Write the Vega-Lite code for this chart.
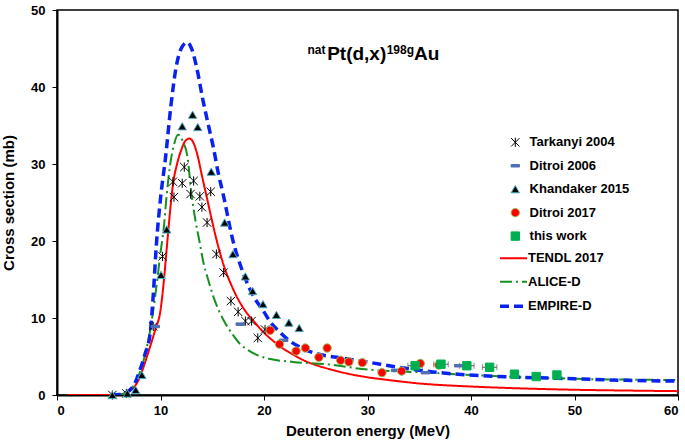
{
  "$schema": "https://vega.github.io/schema/vega-lite/v6.json",
  "width": 621,
  "height": 385,
  "autosize": {"type": "none"},
  "padding": {"left": 57, "top": 10, "right": 7, "bottom": 51},
  "background": "#ffffff",
  "datasets": {
    "curves": [
      {"model": "TENDL 2017", "E": 1, "s": 0}, {"model": "TENDL 2017", "E": 5.5, "s": 0}, {"model": "TENDL 2017", "E": 6, "s": 0.05}, {"model": "TENDL 2017", "E": 6.5, "s": 0.2}, {"model": "TENDL 2017", "E": 7, "s": 0.5}, {"model": "TENDL 2017", "E": 7.5, "s": 1.1}, {"model": "TENDL 2017", "E": 8, "s": 2.3}, {"model": "TENDL 2017", "E": 8.5, "s": 4.2}, {"model": "TENDL 2017", "E": 9, "s": 6.3}, {"model": "TENDL 2017", "E": 9.5, "s": 8.5}, {"model": "TENDL 2017", "E": 10, "s": 11}, {"model": "TENDL 2017", "E": 10.3, "s": 14.5}, {"model": "TENDL 2017", "E": 10.6, "s": 19}, {"model": "TENDL 2017", "E": 10.9, "s": 23.5}, {"model": "TENDL 2017", "E": 11.2, "s": 27.3}, {"model": "TENDL 2017", "E": 11.6, "s": 30}, {"model": "TENDL 2017", "E": 12, "s": 31.8}, {"model": "TENDL 2017", "E": 12.4, "s": 33}, {"model": "TENDL 2017", "E": 12.8, "s": 33.3}, {"model": "TENDL 2017", "E": 13.2, "s": 32.7}, {"model": "TENDL 2017", "E": 13.6, "s": 31}, {"model": "TENDL 2017", "E": 14, "s": 28.5}, {"model": "TENDL 2017", "E": 14.5, "s": 25.5}, {"model": "TENDL 2017", "E": 15, "s": 22.5}, {"model": "TENDL 2017", "E": 15.5, "s": 19.7}, {"model": "TENDL 2017", "E": 16, "s": 17.3}, {"model": "TENDL 2017", "E": 17, "s": 13.8}, {"model": "TENDL 2017", "E": 18, "s": 11.3}, {"model": "TENDL 2017", "E": 19, "s": 9.6}, {"model": "TENDL 2017", "E": 20, "s": 8.1}, {"model": "TENDL 2017", "E": 21, "s": 6.9}, {"model": "TENDL 2017", "E": 22, "s": 5.9}, {"model": "TENDL 2017", "E": 23, "s": 5.1}, {"model": "TENDL 2017", "E": 24, "s": 4.4}, {"model": "TENDL 2017", "E": 25, "s": 3.9}, {"model": "TENDL 2017", "E": 26.5, "s": 3.3}, {"model": "TENDL 2017", "E": 28, "s": 2.8}, {"model": "TENDL 2017", "E": 30, "s": 2.3}, {"model": "TENDL 2017", "E": 32, "s": 1.95}, {"model": "TENDL 2017", "E": 35, "s": 1.5}, {"model": "TENDL 2017", "E": 40, "s": 1.1}, {"model": "TENDL 2017", "E": 45, "s": 0.85}, {"model": "TENDL 2017", "E": 50, "s": 0.68}, {"model": "TENDL 2017", "E": 55, "s": 0.58}, {"model": "TENDL 2017", "E": 60, "s": 0.5},
      {"model": "ALICE-D", "E": 6, "s": 0}, {"model": "ALICE-D", "E": 6.5, "s": 0.2}, {"model": "ALICE-D", "E": 7.2, "s": 0.8}, {"model": "ALICE-D", "E": 8, "s": 2.9}, {"model": "ALICE-D", "E": 8.5, "s": 5.2}, {"model": "ALICE-D", "E": 9, "s": 8.4}, {"model": "ALICE-D", "E": 9.6, "s": 14}, {"model": "ALICE-D", "E": 10, "s": 18.5}, {"model": "ALICE-D", "E": 10.3, "s": 21.5}, {"model": "ALICE-D", "E": 10.6, "s": 26}, {"model": "ALICE-D", "E": 10.9, "s": 29.6}, {"model": "ALICE-D", "E": 11.3, "s": 32.5}, {"model": "ALICE-D", "E": 11.7, "s": 33.8}, {"model": "ALICE-D", "E": 12.2, "s": 32.8}, {"model": "ALICE-D", "E": 12.6, "s": 31}, {"model": "ALICE-D", "E": 13, "s": 26}, {"model": "ALICE-D", "E": 13.4, "s": 22.5}, {"model": "ALICE-D", "E": 13.8, "s": 19.7}, {"model": "ALICE-D", "E": 14.1, "s": 17.5}, {"model": "ALICE-D", "E": 14.6, "s": 15}, {"model": "ALICE-D", "E": 15.1, "s": 12.8}, {"model": "ALICE-D", "E": 16.1, "s": 9.7}, {"model": "ALICE-D", "E": 17, "s": 7.8}, {"model": "ALICE-D", "E": 17.7, "s": 6.6}, {"model": "ALICE-D", "E": 18.5, "s": 5.8}, {"model": "ALICE-D", "E": 19.5, "s": 5.1}, {"model": "ALICE-D", "E": 20.5, "s": 4.7}, {"model": "ALICE-D", "E": 22.8, "s": 4.3}, {"model": "ALICE-D", "E": 26, "s": 4}, {"model": "ALICE-D", "E": 30, "s": 3.3}, {"model": "ALICE-D", "E": 36, "s": 2.9}, {"model": "ALICE-D", "E": 40, "s": 2.6}, {"model": "ALICE-D", "E": 45, "s": 2.3}, {"model": "ALICE-D", "E": 50, "s": 2.1}, {"model": "ALICE-D", "E": 55, "s": 2}, {"model": "ALICE-D", "E": 60, "s": 1.95},
      {"model": "EMPIRE-D", "E": 5.3, "s": 0}, {"model": "EMPIRE-D", "E": 6, "s": 0.05}, {"model": "EMPIRE-D", "E": 6.6, "s": 0.25}, {"model": "EMPIRE-D", "E": 7, "s": 0.6}, {"model": "EMPIRE-D", "E": 7.4, "s": 1.2}, {"model": "EMPIRE-D", "E": 8, "s": 3.2}, {"model": "EMPIRE-D", "E": 8.5, "s": 5.3}, {"model": "EMPIRE-D", "E": 9, "s": 8}, {"model": "EMPIRE-D", "E": 9.3, "s": 13}, {"model": "EMPIRE-D", "E": 9.6, "s": 19.5}, {"model": "EMPIRE-D", "E": 10, "s": 25.5}, {"model": "EMPIRE-D", "E": 10.5, "s": 31}, {"model": "EMPIRE-D", "E": 11, "s": 37.5}, {"model": "EMPIRE-D", "E": 11.5, "s": 42.5}, {"model": "EMPIRE-D", "E": 12, "s": 45}, {"model": "EMPIRE-D", "E": 12.6, "s": 45.8}, {"model": "EMPIRE-D", "E": 13, "s": 45}, {"model": "EMPIRE-D", "E": 13.5, "s": 42.5}, {"model": "EMPIRE-D", "E": 14.1, "s": 38.3}, {"model": "EMPIRE-D", "E": 14.6, "s": 35.2}, {"model": "EMPIRE-D", "E": 15.1, "s": 32.2}, {"model": "EMPIRE-D", "E": 15.6, "s": 28.7}, {"model": "EMPIRE-D", "E": 16.1, "s": 25.8}, {"model": "EMPIRE-D", "E": 16.9, "s": 20.6}, {"model": "EMPIRE-D", "E": 18, "s": 15.8}, {"model": "EMPIRE-D", "E": 19, "s": 12.8}, {"model": "EMPIRE-D", "E": 20, "s": 10.8}, {"model": "EMPIRE-D", "E": 20.6, "s": 9.5}, {"model": "EMPIRE-D", "E": 21.5, "s": 8.2}, {"model": "EMPIRE-D", "E": 22.5, "s": 7}, {"model": "EMPIRE-D", "E": 23.5, "s": 6.2}, {"model": "EMPIRE-D", "E": 25, "s": 5.4}, {"model": "EMPIRE-D", "E": 27, "s": 4.9}, {"model": "EMPIRE-D", "E": 29.9, "s": 4.3}, {"model": "EMPIRE-D", "E": 33, "s": 3.6}, {"model": "EMPIRE-D", "E": 36.3, "s": 3}, {"model": "EMPIRE-D", "E": 41, "s": 2.5}, {"model": "EMPIRE-D", "E": 45, "s": 2.3}, {"model": "EMPIRE-D", "E": 50, "s": 2.1}, {"model": "EMPIRE-D", "E": 55, "s": 1.9}, {"model": "EMPIRE-D", "E": 60, "s": 1.8}
    ],
    "exp": [
      {"series": "Tarkanyi 2004", "E": 5.35, "s": 0}, {"series": "Tarkanyi 2004", "E": 6.7, "s": 0.2}, {"series": "Tarkanyi 2004", "E": 9.3, "s": 8.9}, {"series": "Tarkanyi 2004", "E": 10.2, "s": 18}, {"series": "Tarkanyi 2004", "E": 11.2, "s": 27.7}, {"series": "Tarkanyi 2004", "E": 11.3, "s": 25.7}, {"series": "Tarkanyi 2004", "E": 12.1, "s": 27.5}, {"series": "Tarkanyi 2004", "E": 12.3, "s": 29.6}, {"series": "Tarkanyi 2004", "E": 12.9, "s": 26.1}, {"series": "Tarkanyi 2004", "E": 13.2, "s": 27.8}, {"series": "Tarkanyi 2004", "E": 13.8, "s": 25.8}, {"series": "Tarkanyi 2004", "E": 14, "s": 24.4}, {"series": "Tarkanyi 2004", "E": 14.5, "s": 22.4}, {"series": "Tarkanyi 2004", "E": 14.85, "s": 26.4}, {"series": "Tarkanyi 2004", "E": 15.4, "s": 18.3}, {"series": "Tarkanyi 2004", "E": 16.1, "s": 15.9}, {"series": "Tarkanyi 2004", "E": 16.8, "s": 12.2}, {"series": "Tarkanyi 2004", "E": 17.5, "s": 10.8}, {"series": "Tarkanyi 2004", "E": 18.2, "s": 9.6}, {"series": "Tarkanyi 2004", "E": 18.8, "s": 9.6}, {"series": "Tarkanyi 2004", "E": 19.4, "s": 7.4}, {"series": "Tarkanyi 2004", "E": 20.1, "s": 8.5},
      {"series": "Ditroi 2006", "E": 9.5, "s": 8.9}, {"series": "Ditroi 2006", "E": 17.7, "s": 9.2}, {"series": "Ditroi 2006", "E": 21.9, "s": 7.1}, {"series": "Ditroi 2006", "E": 32.7, "s": 3.2}, {"series": "Ditroi 2006", "E": 35.6, "s": 2.9}, {"series": "Ditroi 2006", "E": 38.8, "s": 3.8},
      {"series": "Khandaker 2015", "E": 5.35, "s": 0}, {"series": "Khandaker 2015", "E": 6.8, "s": 0.2}, {"series": "Khandaker 2015", "E": 7.6, "s": 0.65}, {"series": "Khandaker 2015", "E": 8.2, "s": 2.6}, {"series": "Khandaker 2015", "E": 10.05, "s": 15.6}, {"series": "Khandaker 2015", "E": 10.6, "s": 21.5}, {"series": "Khandaker 2015", "E": 12.1, "s": 34.9}, {"series": "Khandaker 2015", "E": 13.1, "s": 36.4}, {"series": "Khandaker 2015", "E": 13.6, "s": 34.8}, {"series": "Khandaker 2015", "E": 14.9, "s": 29}, {"series": "Khandaker 2015", "E": 16.2, "s": 22.4}, {"series": "Khandaker 2015", "E": 17, "s": 18.3}, {"series": "Khandaker 2015", "E": 18.2, "s": 15.4}, {"series": "Khandaker 2015", "E": 18.9, "s": 13.5}, {"series": "Khandaker 2015", "E": 19.9, "s": 11.8}, {"series": "Khandaker 2015", "E": 21.2, "s": 10.4}, {"series": "Khandaker 2015", "E": 22.4, "s": 9.4}, {"series": "Khandaker 2015", "E": 23.4, "s": 8.7},
      {"series": "Ditroi 2017", "E": 20.6, "s": 8.4}, {"series": "Ditroi 2017", "E": 21.5, "s": 6.6}, {"series": "Ditroi 2017", "E": 23.1, "s": 5.7}, {"series": "Ditroi 2017", "E": 24, "s": 6.1}, {"series": "Ditroi 2017", "E": 25.3, "s": 4.9}, {"series": "Ditroi 2017", "E": 26.1, "s": 6.1}, {"series": "Ditroi 2017", "E": 27.4, "s": 4.5}, {"series": "Ditroi 2017", "E": 28.2, "s": 4.3}, {"series": "Ditroi 2017", "E": 29.5, "s": 4.2}, {"series": "Ditroi 2017", "E": 31.4, "s": 2.9}, {"series": "Ditroi 2017", "E": 33.3, "s": 3.1}, {"series": "Ditroi 2017", "E": 35.1, "s": 4.1}, {"series": "Ditroi 2017", "E": 36.9, "s": 3.9},
      {"series": "this work", "E": 34.6, "s": 3.8}, {"series": "this work", "E": 37.1, "s": 4}, {"series": "this work", "E": 39.6, "s": 3.8}, {"series": "this work", "E": 41.8, "s": 3.6}, {"series": "this work", "E": 44.2, "s": 2.7}, {"series": "this work", "E": 46.3, "s": 2.4}, {"series": "this work", "E": 48.3, "s": 2.6}
    ],
    "xerr": [
      {"series": "Ditroi 2006", "s": 8.9, "lo": 9.1, "hi": 9.9}, {"series": "Ditroi 2006", "s": 9.2, "lo": 17.3, "hi": 18.1}, {"series": "Ditroi 2006", "s": 7.1, "lo": 21.5, "hi": 22.3}, {"series": "Ditroi 2006", "s": 3.2, "lo": 32.3, "hi": 33.1}, {"series": "Ditroi 2006", "s": 2.9, "lo": 35.2, "hi": 36.0}, {"series": "Ditroi 2006", "s": 3.8, "lo": 38.4, "hi": 39.2},
      {"series": "this work", "s": 3.8, "lo": 33.9, "hi": 35.3}, {"series": "this work", "s": 4, "lo": 36.4, "hi": 37.8}, {"series": "this work", "s": 3.8, "lo": 38.9, "hi": 40.3}, {"series": "this work", "s": 3.6, "lo": 41.1, "hi": 42.5}
    ]
  },
  "layer": [
    {
      "data": {"name": "curves"},
      "mark": {"type": "line", "interpolate": "monotone", "clip": true},
      "encoding": {
        "x": {"field": "E", "type": "quantitative", "title": "Deuteron energy (MeV)", "scale": {"domain": [0, 60], "nice": false, "zero": false}, "axis": {"values": [0, 10, 20, 30, 40, 50, 60], "titlePadding": 6, "labelPadding": 4}},
        "y": {"field": "s", "type": "quantitative", "title": "Cross section (mb)", "scale": {"domain": [0, 50], "nice": false}, "axis": {"values": [0, 5, 10, 15, 20, 25, 30, 35, 40, 45, 50], "titlePadding": 14, "labelPadding": 7}},
        "color": {"field": "model", "type": "nominal", "scale": {"domain": ["TENDL 2017", "ALICE-D", "EMPIRE-D"], "range": ["#ff0000", "#15901f", "#0a22f0"]},
          "legend": {"title": null, "orient": "none", "legendX": 450, "legendY": 241.8, "symbolType": "stroke", "symbolSize": 729, "labelOffset": 8, "rowPadding": 9.45, "padding": 0, "labelFont": "Liberation Sans", "labelFontSize": 13, "labelFontWeight": "bold", "labelColor": "#000000", "symbolStrokeWidth": 2.5,
            "encode": {"symbols": {"update": {"strokeWidth": {"signal": "datum.value === 'EMPIRE-D' ? 3.5 : 2"}}}}}},
        "strokeDash": {"field": "model", "type": "nominal", "scale": {"domain": ["TENDL 2017", "ALICE-D", "EMPIRE-D"], "range": [[1, 0], [12, 4, 2, 4], [9, 5]]},
          "legend": {"title": null, "orient": "none", "legendX": 450, "legendY": 241.8, "symbolType": "stroke", "symbolSize": 729, "labelOffset": 8, "rowPadding": 9.45, "padding": 0, "labelFont": "Liberation Sans", "labelFontSize": 13, "labelFontWeight": "bold", "labelColor": "#000000", "symbolStrokeWidth": 2.5}},
        "strokeWidth": {"condition": {"test": "datum.model === 'EMPIRE-D'", "value": 3.5}, "value": 2}
      }
    },
    {
      "data": {"name": "xerr"},
      "transform": [{"filter": "datum.series === 'Ditroi 2006'"}],
      "mark": {"type": "rule", "color": "#4f6fb5", "strokeWidth": 2},
      "encoding": {
        "x": {"field": "lo", "type": "quantitative", "title": "Deuteron energy (MeV)"},
        "x2": {"field": "hi"},
        "y": {"field": "s", "type": "quantitative", "title": "Cross section (mb)"}
      }
    },
    {
      "data": {"name": "xerr"},
      "transform": [{"filter": "datum.series === 'this work'"}],
      "mark": {"type": "errorbar", "ticks": {"size": 6, "color": "#555555"}, "rule": {"color": "#555555"}, "thickness": 1},
      "encoding": {
        "x": {"field": "lo", "type": "quantitative", "title": "Deuteron energy (MeV)"},
        "x2": {"field": "hi"},
        "y": {"field": "s", "type": "quantitative", "title": "Cross section (mb)"}
      }
    },
    {
      "data": {"name": "exp"},
      "mark": {"type": "point", "opacity": 1, "strokeWidth": 1, "size": 70},
      "encoding": {
        "x": {"field": "E", "type": "quantitative", "title": "Deuteron energy (MeV)"},
        "y": {"field": "s", "type": "quantitative", "title": "Cross section (mb)"},
        "shape": {"field": "series", "type": "nominal", "scale": {"domain": ["Tarkanyi 2004", "Ditroi 2006", "Khandaker 2015", "Ditroi 2017", "this work"], "range": ["M-1,-1L1,1M-1,1L1,-1M0,-1.1L0,1.1", "M-1,-0.3H1V0.3H-1Z", "triangle-up", "circle", "square"]},
          "legend": {"title": null, "orient": "none", "legendX": 451.8, "legendY": 125.8, "symbolSize": 70, "labelOffset": 7.8, "rowPadding": 9.45, "padding": 0, "labelFont": "Liberation Sans", "labelFontSize": 13, "labelFontWeight": "bold", "labelColor": "#000000", "symbolStrokeWidth": 1}},
        "fill": {"field": "series", "type": "nominal", "scale": {"domain": ["Tarkanyi 2004", "Ditroi 2006", "Khandaker 2015", "Ditroi 2017", "this work"], "range": ["transparent", "#4f6fb5", "#000000", "#ff0000", "#00b050"]},
          "legend": {"title": null, "orient": "none", "legendX": 451.8, "legendY": 125.8, "symbolSize": 70, "labelOffset": 7.8, "rowPadding": 9.45, "padding": 0, "labelFont": "Liberation Sans", "labelFontSize": 13, "labelFontWeight": "bold", "labelColor": "#000000", "symbolStrokeWidth": 1}},
        "stroke": {"field": "series", "type": "nominal", "scale": {"domain": ["Tarkanyi 2004", "Ditroi 2006", "Khandaker 2015", "Ditroi 2017", "this work"], "range": ["#000000", "#4f6fb5", "#4bacc6", "#9bbb59", "#00b050"]},
          "legend": {"title": null, "orient": "none", "legendX": 451.8, "legendY": 125.8, "symbolSize": 70, "labelOffset": 7.8, "rowPadding": 9.45, "padding": 0, "labelFont": "Liberation Sans", "labelFontSize": 13, "labelFontWeight": "bold", "labelColor": "#000000", "symbolStrokeWidth": 1}}
      }
    },
    {
      "data": {"values": [{}]},
      "mark": {"type": "text", "text": "nat", "align": "left", "baseline": "alphabetic", "font": "Liberation Sans", "fontWeight": "bold", "fontSize": 12, "color": "#000000"},
      "encoding": {"x": {"datum": 24.2, "type": "quantitative"}, "y": {"datum": 44.35, "type": "quantitative"}}
    },
    {
      "data": {"values": [{}]},
      "mark": {"type": "text", "text": "Pt(d,x)", "align": "left", "baseline": "alphabetic", "font": "Liberation Sans", "fontWeight": "bold", "fontSize": 19, "color": "#000000"},
      "encoding": {"x": {"datum": 26.1, "type": "quantitative"}, "y": {"datum": 43.5, "type": "quantitative"}}
    },
    {
      "data": {"values": [{}]},
      "mark": {"type": "text", "text": "198g", "align": "left", "baseline": "alphabetic", "font": "Liberation Sans", "fontWeight": "bold", "fontSize": 12, "color": "#000000"},
      "encoding": {"x": {"datum": 31.85, "type": "quantitative"}, "y": {"datum": 44.35, "type": "quantitative"}}
    },
    {
      "data": {"values": [{}]},
      "mark": {"type": "text", "text": "Au", "align": "left", "baseline": "alphabetic", "font": "Liberation Sans", "fontWeight": "bold", "fontSize": 19, "color": "#000000"},
      "encoding": {"x": {"datum": 34.5, "type": "quantitative"}, "y": {"datum": 43.5, "type": "quantitative"}}
    }
  ],
  "config": {
    "font": "Liberation Sans",
    "view": {"stroke": "#000000", "strokeWidth": 1.5},
    "axis": {"grid": false, "domainColor": "#000000", "domainWidth": 2, "tickColor": "#000000", "tickSize": 5, "tickWidth": 1, "labelFont": "Liberation Sans", "labelFontWeight": "bold", "labelFontSize": 13, "labelColor": "#000000", "titleFont": "Liberation Sans", "titleFontWeight": "bold", "titleFontSize": 15, "titleColor": "#000000"}
  }
}
